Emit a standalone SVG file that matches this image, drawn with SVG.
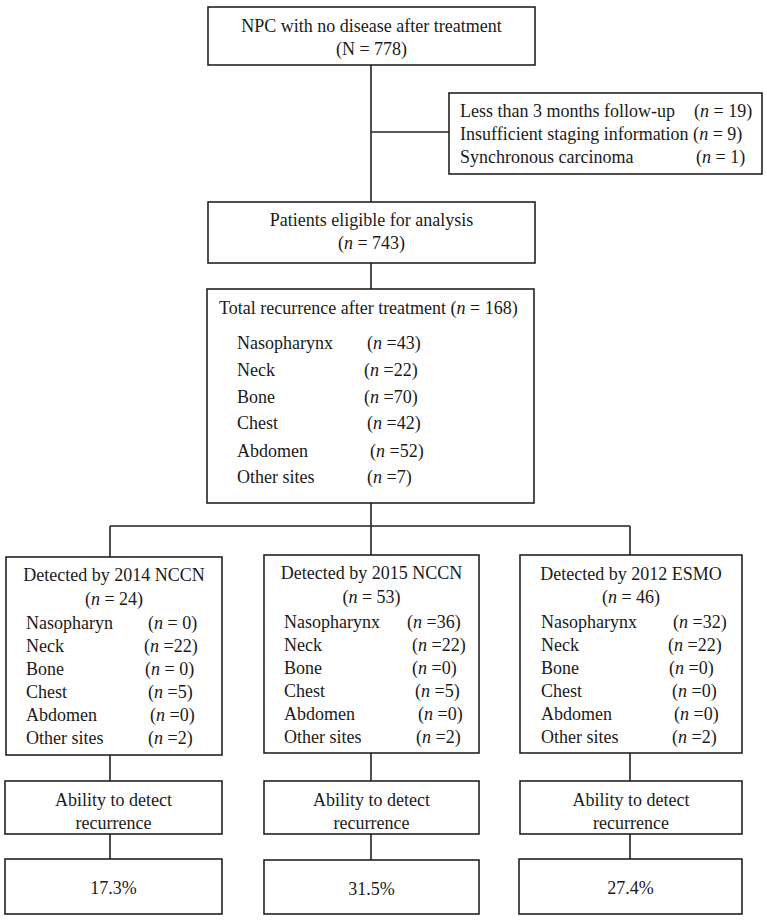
<svg xmlns="http://www.w3.org/2000/svg" width="767" height="920" viewBox="0 0 767 920">
<style>
.box{fill:#fff;stroke:#222;stroke-width:1.6}
.ln{stroke:#222;stroke-width:1.6;fill:none}
text{font-family:"Liberation Serif","Times New Roman",serif;font-size:18px;fill:#1a1a1a}
.c{text-anchor:middle}
.i{font-style:italic}
</style>
<rect width="767" height="920" fill="#fff"/>
<g id="connectors">
<line class="ln" x1="371" y1="65" x2="371" y2="202"/>
<line class="ln" x1="371" y1="132" x2="449" y2="132"/>
<line class="ln" x1="371" y1="263" x2="371" y2="289"/>
<line class="ln" x1="371" y1="503" x2="371" y2="526"/>
<line class="ln" x1="110" y1="526" x2="630" y2="526"/>
<line class="ln" x1="110" y1="526" x2="110" y2="557"/>
<line class="ln" x1="371" y1="526" x2="371" y2="555"/>
<line class="ln" x1="630" y1="526" x2="630" y2="555"/>
<line class="ln" x1="110" y1="755" x2="110" y2="781"/>
<line class="ln" x1="371" y1="753" x2="371" y2="781"/>
<line class="ln" x1="630" y1="753" x2="630" y2="781"/>
<line class="ln" x1="110" y1="834" x2="110" y2="859"/>
<line class="ln" x1="371" y1="834" x2="371" y2="860"/>
<line class="ln" x1="630" y1="834" x2="630" y2="859"/>
</g>
<g id="n-start">
<rect class="box" x="208" y="7" width="327" height="58"/>
<text class="c" x="371.5" y="32">NPC with no disease after treatment</text>
<text class="c" x="371.5" y="55">(N = 778)</text>
</g>
<g id="n-excluded">
<rect class="box" x="449" y="93" width="313" height="81"/>
<text x="460" y="117">Less than 3 months follow-up</text>
<text x="694" y="117">(<tspan class="i">n</tspan> = 19)</text>
<text x="460" y="140">Insufficient staging information (<tspan class="i">n</tspan> = 9)</text>
<text x="460" y="163">Synchronous carcinoma</text>
<text x="696" y="163">(<tspan class="i">n</tspan> = 1)</text>
</g>
<g id="n-eligible">
<rect class="box" x="208" y="202" width="327" height="61"/>
<text class="c" x="371.5" y="226">Patients eligible for analysis</text>
<text class="c" x="371.5" y="249">(<tspan class="i">n</tspan> = 743)</text>
</g>
<g id="n-total">
<rect class="box" x="207" y="289" width="327" height="214"/>
<text x="219" y="314">Total recurrence after treatment (<tspan class="i">n</tspan> = 168)</text>
<text x="237" y="349">Nasopharynx</text><text x="367" y="349">(<tspan class="i">n</tspan> =43)</text>
<text x="237" y="376">Neck</text><text x="364" y="376">(<tspan class="i">n</tspan> =22)</text>
<text x="237" y="403">Bone</text><text x="364" y="403">(<tspan class="i">n</tspan> =70)</text>
<text x="237" y="429">Chest</text><text x="367" y="429">(<tspan class="i">n</tspan> =42)</text>
<text x="237" y="457">Abdomen</text><text x="370" y="457">(<tspan class="i">n</tspan> =52)</text>
<text x="237" y="483">Other sites</text><text x="367" y="483">(<tspan class="i">n</tspan> =7)</text>
</g>
<g id="n-nccn2014">
<rect class="box" x="6" y="557" width="216" height="198"/>
<text class="c" x="114" y="581">Detected by 2014 NCCN</text>
<text class="c" x="114" y="605">(<tspan class="i">n</tspan> = 24)</text>
<text x="26" y="629">Nasopharyn</text><text x="148" y="629">(<tspan class="i">n</tspan> = 0)</text>
<text x="26" y="652">Neck</text><text x="144" y="652">(<tspan class="i">n</tspan> =22)</text>
<text x="26" y="675">Bone</text><text x="145" y="675">(<tspan class="i">n</tspan> = 0)</text>
<text x="26" y="698">Chest</text><text x="148" y="698">(<tspan class="i">n</tspan> =5)</text>
<text x="26" y="721">Abdomen</text><text x="150" y="721">(<tspan class="i">n</tspan> =0)</text>
<text x="26" y="744">Other sites</text><text x="148" y="744">(<tspan class="i">n</tspan> =2)</text>
</g>
<g id="n-nccn2015">
<rect class="box" x="264" y="555" width="215" height="198"/>
<text class="c" x="371.5" y="579">Detected by 2015 NCCN</text>
<text class="c" x="371.5" y="603">(<tspan class="i">n</tspan> = 53)</text>
<text x="284" y="628">Nasopharynx</text><text x="407" y="628">(<tspan class="i">n</tspan> =36)</text>
<text x="284" y="651">Neck</text><text x="412" y="651">(<tspan class="i">n</tspan> =22)</text>
<text x="284" y="674">Bone</text><text x="412" y="674">(<tspan class="i">n</tspan> =0)</text>
<text x="284" y="697">Chest</text><text x="415" y="697">(<tspan class="i">n</tspan> =5)</text>
<text x="284" y="720">Abdomen</text><text x="418" y="720">(<tspan class="i">n</tspan> =0)</text>
<text x="284" y="743">Other sites</text><text x="416" y="743">(<tspan class="i">n</tspan> =2)</text>
</g>
<g id="n-esmo2012">
<rect class="box" x="520" y="555" width="222" height="198"/>
<text class="c" x="631" y="580">Detected by 2012 ESMO</text>
<text class="c" x="631" y="603">(<tspan class="i">n</tspan> = 46)</text>
<text x="541" y="628">Nasopharynx</text><text x="673" y="628">(<tspan class="i">n</tspan> =32)</text>
<text x="541" y="651">Neck</text><text x="668" y="651">(<tspan class="i">n</tspan> =22)</text>
<text x="541" y="674">Bone</text><text x="669" y="674">(<tspan class="i">n</tspan> =0)</text>
<text x="541" y="697">Chest</text><text x="672" y="697">(<tspan class="i">n</tspan> =0)</text>
<text x="541" y="720">Abdomen</text><text x="674" y="720">(<tspan class="i">n</tspan> =0)</text>
<text x="541" y="743">Other sites</text><text x="672" y="743">(<tspan class="i">n</tspan> =2)</text>
</g>
<g id="n-ability1">
<rect class="box" x="5" y="781" width="217" height="53"/>
<text class="c" x="113.5" y="806">Ability to detect</text>
<text class="c" x="113.5" y="829">recurrence</text>
</g>
<g id="n-ability2">
<rect class="box" x="264" y="781" width="215" height="53"/>
<text class="c" x="371.5" y="806">Ability to detect</text>
<text class="c" x="371.5" y="829">recurrence</text>
</g>
<g id="n-ability3">
<rect class="box" x="520" y="781" width="222" height="53"/>
<text class="c" x="631" y="806">Ability to detect</text>
<text class="c" x="631" y="829">recurrence</text>
</g>
<g id="n-pct1">
<rect class="box" x="5" y="859" width="217" height="55"/>
<text class="c" x="113.5" y="894">17.3%</text>
</g>
<g id="n-pct2">
<rect class="box" x="264" y="860" width="215" height="54"/>
<text class="c" x="371.5" y="895">31.5%</text>
</g>
<g id="n-pct3">
<rect class="box" x="519" y="859" width="223" height="55"/>
<text class="c" x="630.5" y="894">27.4%</text>
</g>
</svg>
